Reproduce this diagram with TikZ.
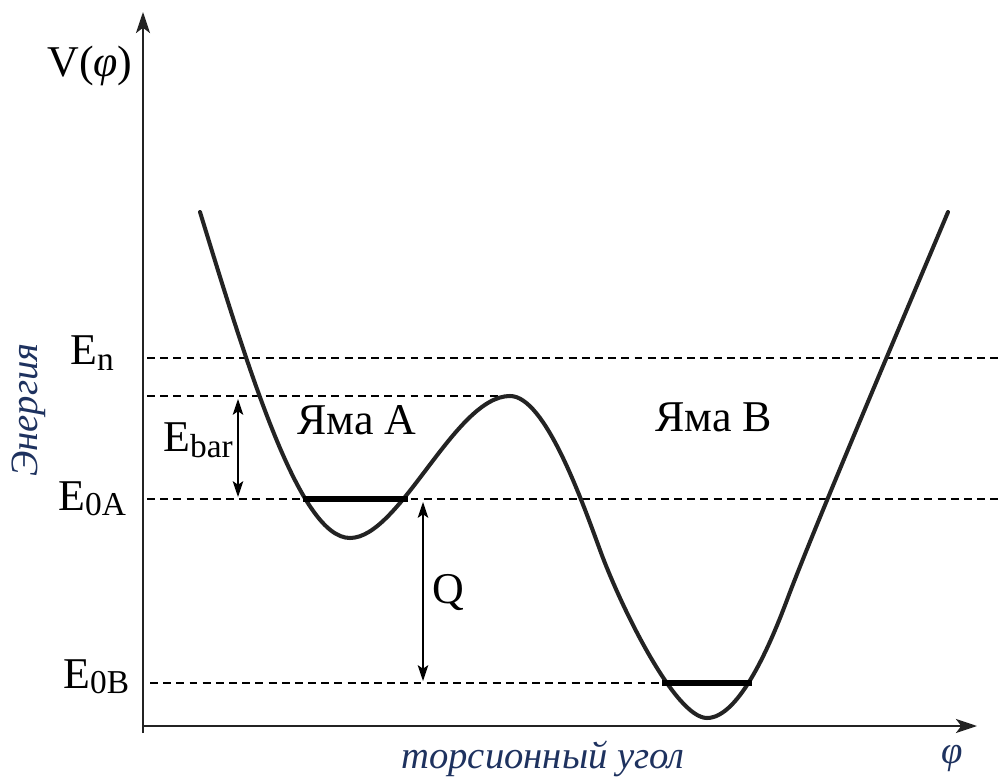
\documentclass[tikz,border=0pt]{standalone}
\usepackage{fontspec}
\setmainfont{Liberation Serif}
\usetikzlibrary{arrows.meta, positioning}
\definecolor{labelNavy}{RGB}{30, 50, 95}
\definecolor{curveBlack}{RGB}{35, 35, 35}
\newcommand{\lvlsub}[1]{\raisebox{-3pt}{\fontsize{19}{20}\selectfont #1}}

\begin{document}
\begin{tikzpicture}[x=0.02cm, y=-0.02cm]
    \tikzset{
        lbl/.style={font=\fontsize{25}{28}\selectfont, inner sep=0pt, anchor=base west},
        axislbl/.style={font=\fontsize{22}{26}\selectfont\itshape, text=labelNavy, inner sep=0pt},
        axis/.style={draw=curveBlack, line width=1.2pt, -{Stealth[length=12pt, width=8pt, inset=3pt]}},
        level/.style={draw=black, dash pattern=on 4.5pt off 3pt, line width=0.8pt},
        bar/.style={draw=black, line width=3pt},
        gap/.style={draw=black, line width=0.8pt, {Stealth[length=9pt, width=6pt, inset=2pt]}-{Stealth[length=9pt, width=6pt, inset=2pt]}},
        curve/.style={draw=curveBlack, line width=2.3pt, line cap=round, line join=round}
    }
    \useasboundingbox (0,0) rectangle (1001,780);

    \coordinate (ybase) at (143,733);
    \coordinate (ytip) at (143,12);
    \coordinate (xbase) at (143,726);
    \coordinate (xtip) at (977,726);

    \coordinate (nL) at (147,358);
    \coordinate (nR) at (1001,358);
    \coordinate (barL) at (147,396);
    \coordinate (peak) at (510,396);
    \coordinate (aL) at (147,499);
    \coordinate (aR) at (1001,499);
    \coordinate (bL) at (150,683);
    \coordinate (a1) at (303,499);
    \coordinate (a2) at (408,499);
    \coordinate (b1) at (662,683);
    \coordinate (b2) at (752,683);
    \coordinate (ebarT) at (238,399);
    \coordinate (ebarB) at (238,497);
    \coordinate (qT) at (423,502);
    \coordinate (qB) at (423,681);

    \coordinate (top1) at (200,212);
    \coordinate (minA) at (350,538);
    \coordinate (slope1) at (600,550);
    \coordinate (minB) at (707,718);
    \coordinate (slope2) at (787,600);
    \coordinate (top2) at (948,212);

    \draw [level] (nL) -- (nR);
    \draw [level] (barL) -- (peak);
    \draw [level] (aL) -- (aR);
    \draw [level] (bL) -- (b1);

    \draw [axis] (ybase) -- (ytip);
    \draw [axis] (xbase) -- (xtip);

    \draw [curve] (top1) .. controls (250,375) and (300,538) .. (minA)
        .. controls (400,538) and (455,396) .. (peak)
        .. controls (545,396) and (582,501) .. (slope1)
        .. controls (620,605) and (675,718) .. (minB)
        .. controls (740,718) and (772,640) .. (slope2)
        .. controls (815,525) and (925,267) .. (top2);

    \draw [bar] (a1) -- (a2);
    \draw [bar] (b1) -- (b2);

    \draw [gap] (ebarT) -- (ebarB);
    \draw [gap] (qT) -- (qB);

    \node [lbl] (vphi) at (47,77) {V(\textit{φ})};
    \node [lbl] (en) at (70,365) {E\lvlsub{n}};
    \node [lbl] (ebar) at (163,452) {E\lvlsub{bar}};
    \node [lbl] (e0a) at (58,510) {E\lvlsub{0A}};
    \node [lbl] (e0b) at (63,688) {E\lvlsub{0B}};
    \node [lbl] (wellA) at (297,435) {Яма A};
    \node [lbl] (wellB) at (655,432) {Яма B};
    \node [lbl] (q) at (432,603) {Q};
    \node [axislbl, rotate=90] (energy) at (29,410) {Энергия};
    \node [axislbl, anchor=base] (angle) at (543,768) {торсионный угол};
    \node [axislbl, anchor=base] (phi) at (952,763) {φ};
\end{tikzpicture}
\end{document}
